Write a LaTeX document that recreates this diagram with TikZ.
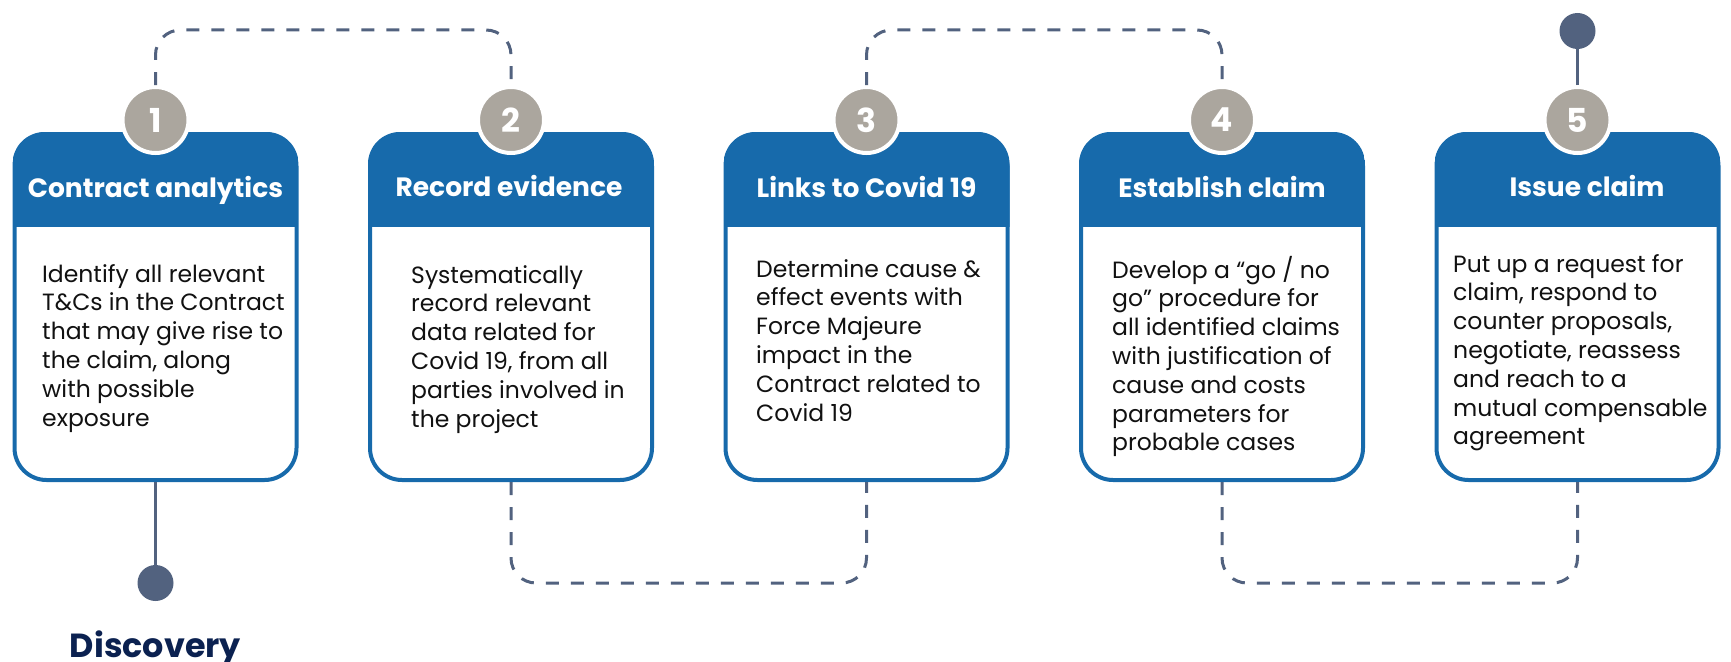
\documentclass[tikz,border=0pt]{standalone}
\usepackage{fontspec}
\setmainfont{Poppins}
\definecolor{boxblue}{HTML}{176AAB}
\definecolor{numgray}{HTML}{ABA69E}
\definecolor{conn}{HTML}{52627F}
\definecolor{navy}{HTML}{0B2150}
\definecolor{bodytxt}{HTML}{111111}
\tikzset{
  stepbox/.style={draw=boxblue, line width=4pt, fill=white, rounded corners=32pt,
    minimum width=282pt, minimum height=346pt, inner sep=0pt},
  numcirc/.style={circle, fill=numgray, draw=white, line width=4pt, minimum size=66pt,
    inner sep=0pt, text=white, font=\fontsize{33}{33}\selectfont\bfseries},
  hdrtxt/.style={text=white, font=\fontsize{26.5}{30}\selectfont\bfseries, inner sep=0pt, anchor=base},
  bodytext/.style={text=bodytxt, font=\fontsize{23.5}{28.8}\selectfont, align=left, inner sep=0pt, anchor=base west},
  dashconn/.style={draw=conn, line width=3pt, dash pattern=on 13pt off 12pt, rounded corners=25pt},
  solidconn/.style={draw=conn, line width=3pt},
  enddot/.style={circle, fill=conn, minimum size=36pt, inner sep=0pt}
}
\begin{document}
\begin{tikzpicture}[x=1pt,y=-1pt]
\useasboundingbox (0,0) rectangle (1731,661);
% boxes
\foreach \i/\cx in {1/155.5,2/511,3/866.5,4/1222,5/1577.5}{
  \node[stepbox] (b\i) at (\cx,307) {};
  \begin{scope}
    \clip[rounded corners=32pt] (\cx-143,132) rectangle (\cx+143,482);
    \fill[boxblue] (\cx-143,132) rectangle (\cx+143,227);
  \end{scope}
}
% connectors
\draw[solidconn] (b1.south) -- (155.5,565);
\node[enddot] (d1) at (155.5,583) {};
\node[enddot] (d5) at (1577.5,31) {};
\draw[dashconn] (b2.south) -- ++(0,101) -| (b3.south);
\draw[dashconn] (b4.south) -- ++(0,101) -| (b5.south);
% numbered circles
\node[numcirc] (n1) at (155.5,120) {1};
\node[numcirc] (n2) at (511,120) {2};
\node[numcirc] (n3) at (866.5,120) {3};
\node[numcirc] (n4) at (1222,120) {4};
\node[numcirc] (n5) at (1577.5,120) {5};
\draw[dashconn] (n1.north) -- ++(0,-55) -| (n2.north);
\draw[dashconn] (n3.north) -- ++(0,-55) -| (n4.north);
\draw[solidconn] (n5.north) -- (d5);
% headers
\node[hdrtxt] (h1) at (155.5,197) {Contract analytics};
\node[hdrtxt] (h2) at (509,196) {Record evidence};
\node[hdrtxt] (h3) at (866.5,197) {Links to Covid 19};
\node[hdrtxt] (h4) at (1222,197) {Establish claim};
\node[hdrtxt] (h5) at (1587,196) {Issue claim};
% bodies (anchor = baseline of last line)
\node[bodytext] (t1) at (42,426) {Identify all relevant\\T\&Cs in the Contract\\that may give rise to\\the claim, along\\with possible\\exposure};
\node[bodytext] (t2) at (411,427) {Systematically\\record relevant\\data related for\\Covid 19, from all\\parties involved in\\the project};
\node[bodytext] (t3) at (756,421) {Determine cause \&\\effect events with\\Force Majeure\\impact in the\\Contract related to\\Covid 19};
\node[bodytext] (t4) at (1112,450.8) {Develop a “go / no\\go” procedure for\\all identified claims\\with justification of\\cause and costs\\parameters for\\probable cases};
\node[bodytext] (t5) at (1453,444.8) {Put up a request for\\claim, respond to\\counter proposals,\\negotiate, reassess\\and reach to a\\mutual compensable\\agreement};
% discovery
\node[text=navy, font=\fontsize{33.4}{40}\selectfont\bfseries, inner sep=0pt, anchor=base] (disc) at (155.5,657) {Discovery};
\end{tikzpicture}
\end{document}
